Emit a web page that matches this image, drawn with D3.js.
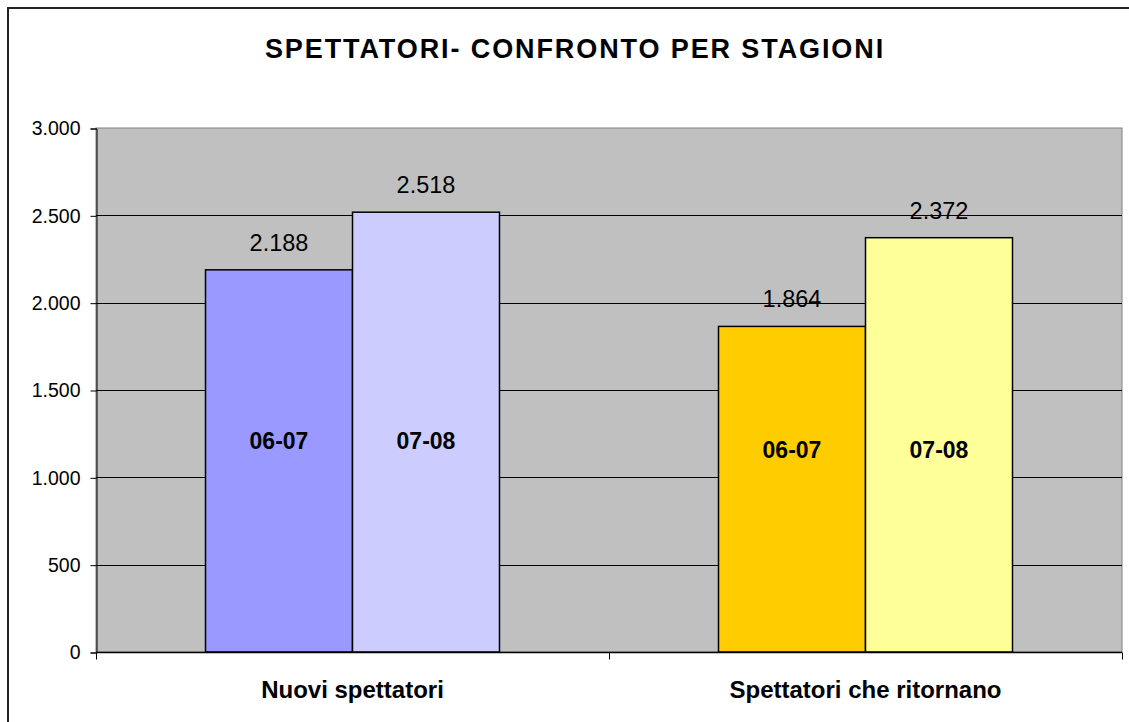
<!DOCTYPE html>
<html lang="it">
<head>
<meta charset="UTF-8">
<script src="https://d3js.org/d3.v7.min.js"></script>
<title>Spettatori</title>
<style>
  body { margin: 0; background: #fff; }
  svg { font-family: Arial, "Liberation Sans", sans-serif; }
</style>
</head>
<body>
<div id="chart"></div>
<script>
// data
var categories = ["Nuovi spettatori", "Spettatori che ritornano"];
var seasons = ["06-07", "07-08"];
var values = [[2188, 2518], [1864, 2372]];
var seasonLabelAt = [1208, 1156];   // where the season text sits on each group
var colors = [["#9999FF", "#CCCCFF"], ["#FFCC00", "#FFFF99"]];
var yTicks = [0, 500, 1000, 1500, 2000, 2500, 3000];

var W = 1129, H = 722;
var plot = {left: 96, right: 1122, top: 128, bottom: 652};
var fmt = function(d){ return d3.format(",")(d).replace(",", "."); };

var svg = d3.select("#chart").append("svg").attr("width", W).attr("height", H);

// outer frame (cut at right/bottom like the picture)
svg.append("rect").attr("x", 8).attr("y", 8).attr("width", W + 10).attr("height", H + 10)
   .attr("fill", "#fff").attr("stroke", "#222").attr("stroke-width", 2);

svg.append("text").attr("x", 575).attr("y", 58).attr("text-anchor", "middle")
   .attr("font-size", 27).attr("font-weight", "bold").attr("letter-spacing", 1.9)
   .text("SPETTATORI- CONFRONTO PER STAGIONI");

var y = d3.scaleLinear().domain([0, 3000]).range([plot.bottom, plot.top]);
var x0 = d3.scaleBand().domain(categories).range([plot.left, plot.right]);
var x1 = d3.scaleBand().domain(seasons).range([0, x0.bandwidth()]).paddingInner(0).paddingOuter(0.745);

// plot area
svg.append("rect").attr("x", plot.left).attr("y", plot.top)
   .attr("width", plot.right - plot.left).attr("height", plot.bottom - plot.top)
   .attr("fill", "#C0C0C0").attr("stroke", "#808080").attr("stroke-width", 1);

// gridlines
svg.append("g").selectAll("line").data(yTicks.filter(function(d){ return d > 0 && d < 3000; }))
   .enter().append("line")
   .attr("x1", plot.left).attr("x2", plot.right)
   .attr("y1", function(d){ return Math.round(y(d)) + 0.5; })
   .attr("y2", function(d){ return Math.round(y(d)) + 0.5; })
   .attr("stroke", "#000").attr("stroke-width", 1);

// y axis
var yAxis = svg.append("g").attr("transform", "translate(" + (plot.left + 0.5) + ",0.5)")
   .call(d3.axisLeft(y).tickValues(yTicks).tickSize(6).tickPadding(10).tickFormat(fmt));
yAxis.selectAll("path, line").attr("stroke", "#000");
yAxis.selectAll("text").attr("font-size", 19.5).attr("fill", "#000")
   .attr("font-family", "Arial, 'Liberation Sans', sans-serif");

// bars
var groups = svg.append("g").selectAll("g").data(categories).enter().append("g")
   .attr("transform", function(d){ return "translate(" + x0(d) + ",0)"; });

groups.each(function(cat, i) {
  var g = d3.select(this);
  seasons.forEach(function(s, j) {
    var v = values[i][j];
    g.append("rect").attr("x", x1(s)).attr("y", y(v))
     .attr("width", x1.bandwidth()).attr("height", y(0) - y(v))
     .attr("fill", colors[i][j]).attr("stroke", "#000").attr("stroke-width", 1.5);
    g.append("text").attr("x", x1(s) + x1.bandwidth() / 2).attr("y", y(v) - 19)
     .attr("text-anchor", "middle").attr("font-size", 23.5).attr("fill", "#000")
     .text(fmt(v));
    g.append("text").attr("x", x1(s) + x1.bandwidth() / 2).attr("y", y(seasonLabelAt[i]))
     .attr("dy", "0.35em").attr("text-anchor", "middle").attr("font-size", 23)
     .attr("font-weight", "bold").attr("fill", "#000").text(s);
  });
});

// x axis
var xAxis = svg.append("g").attr("transform", "translate(0," + (plot.bottom + 0.5) + ")");
xAxis.append("line").attr("x1", plot.left).attr("x2", plot.right).attr("stroke", "#000").attr("stroke-width", 1.5);
xAxis.selectAll(".tk").data([plot.left, x0(categories[1]), plot.right]).enter().append("line")
   .attr("x1", function(d){ return Math.round(d) + 0.5; }).attr("x2", function(d){ return Math.round(d) + 0.5; })
   .attr("y1", 0).attr("y2", 7).attr("stroke", "#000");
xAxis.selectAll("text").data(categories).enter().append("text")
   .attr("x", function(d){ return x0(d) + x0.bandwidth() / 2; }).attr("y", 45)
   .attr("text-anchor", "middle").attr("font-size", 24).attr("font-weight", "bold")
   .text(function(d){ return d; });
</script>
</body>
</html>
